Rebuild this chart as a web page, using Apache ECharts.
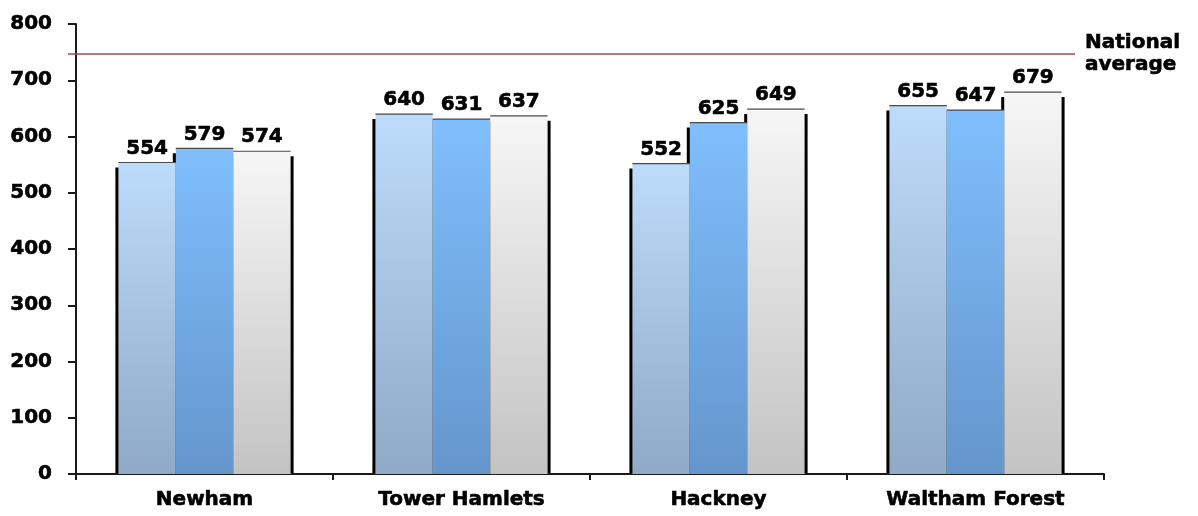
<!DOCTYPE html>
<html>
<head>
<meta charset="utf-8">
<title>Borough comparison</title>
<script src="https://cdn.jsdelivr.net/npm/echarts@6/dist/echarts.min.js"></script>
<style>
  html, body { margin: 0; padding: 0; background: #ffffff; }
  #chart { width: 1198px; height: 516px; }
</style>
</head>
<body>
<div id="chart"></div>
<script>
// Boroughs along the category axis
const boroughs = ['Newham', 'Tower Hamlets', 'Hackney', 'Waltham Forest'];

// Three periods shown side by side for each borough
const periodA = [554, 640, 552, 655];
const periodB = [579, 631, 625, 647];
const periodC = [574, 637, 649, 679];

// Reference level drawn as a horizontal line
const nationalAverage = 747;

// Value axis range and step
const yMin = 0;
const yMax = 800;
const yStep = 100;

const FONT = 'DejaVu Sans';
const CAT_GAP = 0.33;

function vGrad(top, bottom) {
  return {
    type: 'linear', x: 0, y: 0, x2: 0, y2: 1,
    colorStops: [{ offset: 0, color: top }, { offset: 1, color: bottom }]
  };
}

// Heavy black text used for every label
const heavyText = {
  color: '#000',
  fontFamily: FONT,
  fontWeight: 'bold',
  fontSize: 20,
  textBorderColor: '#000',
  textBorderWidth: 0.6
};

const barLabel = Object.assign({ show: true, position: 'top', distance: 4 }, heavyText);

// Rows for the decoration layers: [category index, a, b, c]
const groupRows = boroughs.map((_, i) => [i, periodA[i], periodB[i], periodC[i]]);

function barBoxes(api) {
  const idx = api.value(0);
  const base = api.coord([idx, 0]);
  const band = api.size([1, 0])[0];
  const bw = band * (1 - CAT_GAP) / 3;
  const start = base[0] - bw * 1.5;
  const out = [];
  for (let k = 0; k < 3; k++) {
    out.push({ x: start + bw * k, w: bw, top: api.coord([idx, api.value(k + 1)])[1], bottom: base[1] });
  }
  return out;
}

// Dark side edges drawn behind the bars
function renderEdges(params, api) {
  return {
    type: 'group',
    children: barBoxes(api).map(b => ({
      type: 'rect',
      shape: { x: b.x - 3, y: b.top + 5, width: b.w + 6, height: b.bottom - b.top - 6 },
      style: { fill: '#000' }
    }))
  };
}

// Thin dark rim along each bar top, drawn in front of the bars
function renderRims(params, api) {
  return {
    type: 'group',
    children: barBoxes(api).map(b => ({
      type: 'rect',
      shape: { x: b.x, y: b.top - 0.5, width: b.w, height: 1.2 },
      style: { fill: '#4a4a4a' }
    }))
  };
}

const chart = echarts.init(document.getElementById('chart'), null, { renderer: 'canvas' });

chart.setOption({
  animation: false,
  backgroundColor: '#ffffff',
  grid: { left: 76, right: 94, top: 24, bottom: 42, containLabel: false },
  xAxis: {
    type: 'category',
    data: boroughs,
    axisLine: { show: true, lineStyle: { color: '#1a1a1a', width: 2 } },
    axisTick: { show: true, length: 6, lineStyle: { color: '#1a1a1a', width: 2 } },
    axisLabel: Object.assign({ margin: 16 }, heavyText),
    splitLine: { show: false }
  },
  yAxis: {
    type: 'value',
    min: yMin,
    max: yMax,
    interval: yStep,
    axisLine: { show: true, lineStyle: { color: '#1a1a1a', width: 2 } },
    axisTick: { show: true, length: 8, lineStyle: { color: '#1a1a1a', width: 2 } },
    axisLabel: Object.assign({ margin: 24 }, heavyText),
    splitLine: { show: false }
  },
  series: [
    {
      type: 'custom',
      name: 'edges',
      z: 1,
      silent: true,
      renderItem: renderEdges,
      data: groupRows,
      encode: { x: 0, y: [1, 2, 3] }
    },
    {
      type: 'bar',
      name: 'Period A',
      z: 3,
      data: periodA,
      barGap: '0%',
      barCategoryGap: (CAT_GAP * 100) + '%',
      itemStyle: { color: vGrad('#bddbfb', '#8fa9c6') },
      label: barLabel,
      markLine: {
        silent: true,
        symbol: 'none',
        lineStyle: { color: '#b04646', width: 1.5, type: 'solid' },
        label: Object.assign({
          show: true,
          position: 'end',
          distance: 10,
          formatter: 'National\naverage',
          lineHeight: 22
        }, heavyText),
        data: [[{ x: 68, yAxis: nationalAverage }, { x: 1075, yAxis: nationalAverage }]]
      }
    },
    {
      type: 'bar',
      name: 'Period B',
      z: 3,
      data: periodB,
      barGap: '0%',
      barCategoryGap: (CAT_GAP * 100) + '%',
      itemStyle: { color: vGrad('#80befd', '#6496cc') },
      label: barLabel
    },
    {
      type: 'bar',
      name: 'Period C',
      z: 3,
      data: periodC,
      barGap: '0%',
      barCategoryGap: (CAT_GAP * 100) + '%',
      itemStyle: { color: vGrad('#f6f6f6', '#c3c3c3') },
      label: barLabel
    },
    {
      type: 'custom',
      name: 'rims',
      z: 4,
      silent: true,
      renderItem: renderRims,
      data: groupRows,
      encode: { x: 0, y: [1, 2, 3] }
    }
  ]
});
</script>
</body>
</html>
